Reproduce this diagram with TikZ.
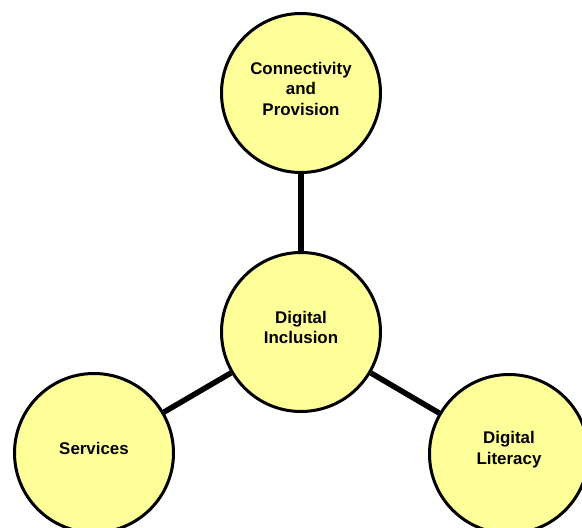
\documentclass[tikz,border=0pt]{standalone}
\usepackage{fontspec}
\setmainfont{Liberation Sans}
\usetikzlibrary{backgrounds}
\definecolor{hubfill}{HTML}{FFFF99}
\tikzset{
  hub/.style={circle, draw=black, line width=3pt, fill=hubfill, minimum size=159pt, inner sep=0pt},
  lbl/.style={align=center, font=\bfseries\fontsize{16.9}{20.5}\selectfont, yshift=4.5pt},
  link/.style={line width=5.5pt, draw=black}
}
\begin{document}
\begin{tikzpicture}[x=1pt,y=-1pt]
\useasboundingbox (0,0) rectangle (582,528);
\node[hub, label={[lbl]center:{Connectivity\\and\\Provision}}] (t) at (301,93) {};
\node[hub, label={[lbl]center:{Digital\\Inclusion}}] (c) at (301,332) {};
\node[hub, label={[lbl]center:{Services}}] (l) at (94,453) {};
\node[hub, label={[lbl]center:{Digital\\Literacy}}] (r) at (509,454) {};
\begin{scope}[on background layer]
\draw[link] (c) -- (t);
\draw[link] (c) -- (l);
\draw[link] (c) -- (r);
\end{scope}
\end{tikzpicture}
\end{document}
